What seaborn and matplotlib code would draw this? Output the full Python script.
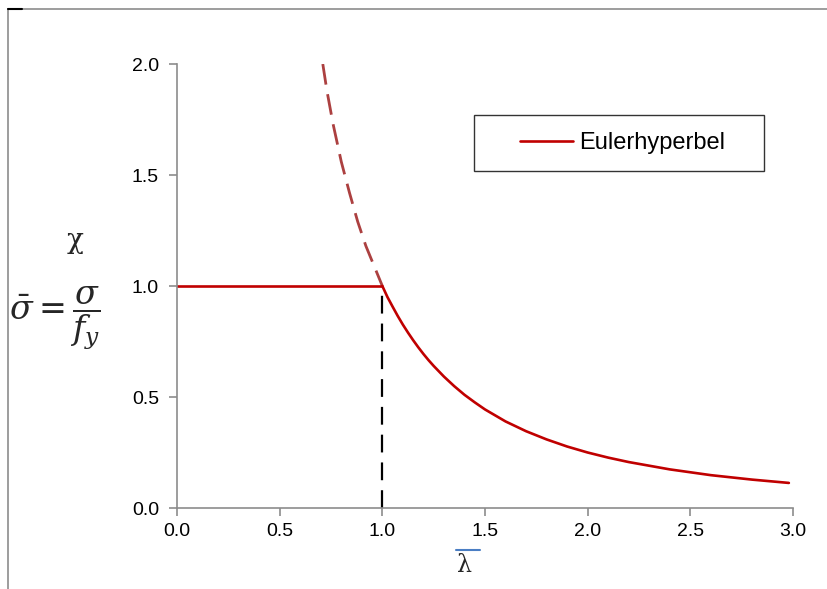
import matplotlib
matplotlib.use("Agg")
import matplotlib.pyplot as plt
import seaborn as sns
import pandas as pd
from matplotlib.lines import Line2D
from matplotlib.patches import Rectangle

# Data
dash_x = [0.71, 0.73, 0.76, 0.80, 0.84, 0.88, 0.92, 0.96, 1.00]
dash_y = [2.00, 1.88, 1.73, 1.56, 1.42, 1.29, 1.18, 1.09, 1.00]

euler_x = [1.00, 1.025, 1.05, 1.075, 1.10, 1.125, 1.15, 1.175, 1.20, 1.225, 1.25, 1.30,
           1.35, 1.40, 1.45, 1.50, 1.60, 1.70, 1.80, 1.90, 2.00, 2.10, 2.20, 2.40,
           2.60, 2.80, 2.98]
euler_y = [1.00, 0.95, 0.907, 0.865, 0.826, 0.79, 0.756, 0.724, 0.694, 0.666, 0.64, 0.592,
           0.549, 0.51, 0.476, 0.444, 0.39, 0.346, 0.309, 0.277, 0.25, 0.227, 0.207, 0.174,
           0.148, 0.128, 0.113]

plateau_x = [0.0, 1.0]
plateau_y = [1.0, 1.0]

vert_x = [1.0, 1.0]
vert_y = [0.0, 1.0]

xticks = [0.0, 0.5, 1.0, 1.5, 2.0, 2.5, 3.0]
yticks = [0.0, 0.5, 1.0, 1.5, 2.0]

sns.set_theme(style="white")
plt.rcParams['font.family'] = ['Liberation Sans', 'DejaVu Sans']

fig = plt.figure(figsize=(8.28, 5.89), dpi=100)
ax = fig.add_axes([0.2138, 0.1375, 0.7439, 0.7538])

red = "#C00000"
brown = "#AC4040"

sns.lineplot(data=pd.DataFrame({"x": dash_x, "y": dash_y}), x="x", y="y", ax=ax,
             color=brown, lw=2.0, sort=False, estimator=None)
ax.lines[-1].set_dashes([7.5, 3.5])
sns.lineplot(data=pd.DataFrame({"x": plateau_x, "y": plateau_y}), x="x", y="y", ax=ax,
             color=red, lw=1.9, sort=False, estimator=None)
sns.lineplot(data=pd.DataFrame({"x": vert_x, "y": vert_y}), x="x", y="y", ax=ax,
             color="black", lw=1.6, sort=False, estimator=None)
ax.lines[-1].set_dashes([8, 4.5])
sns.lineplot(data=pd.DataFrame({"x": euler_x, "y": euler_y}), x="x", y="y", ax=ax,
             color=red, lw=1.9, sort=False, estimator=None, label="Eulerhyperbel")

ax.set_xlim(0, 3.0)
ax.set_ylim(0, 2.0)
ax.set_xticks(xticks)
ax.set_yticks(yticks)
ax.set_xticklabels([f"{v:.1f}" for v in xticks])
ax.set_yticklabels([f"{v:.1f}" for v in yticks])
ax.set_xlabel("")
ax.set_ylabel("")

for s in ["top", "right"]:
    ax.spines[s].set_visible(False)
for s in ["left", "bottom"]:
    ax.spines[s].set_color("#8c8c8c")
    ax.spines[s].set_linewidth(1.2)
ax.tick_params(axis="both", which="major", direction="out", length=6, width=1.2,
               color="#8c8c8c", labelsize=14, labelcolor="black", pad=5, left=True, bottom=True)
ax.yaxis.set_tick_params(pad=7)

# Legend (frameless) with a separate box
leg = ax.legend(loc="center left", bbox_to_anchor=((520 - 177) / 616, (508 - 143) / 444),
                frameon=False, fontsize=17, handlelength=2.25, borderpad=0,
                borderaxespad=0, handletextpad=0.25)
for t in leg.get_texts():
    t.set_color("black")
ax.add_patch(Rectangle(((474 - 177) / 616, (508 - 171) / 444), 290 / 616, 56 / 444,
                       transform=ax.transAxes, fill=False, edgecolor="#333333",
                       lw=1.0, zorder=5))

# Y label
fig.text(75/828, 1 - 240/589, "χ", fontsize=20, ha="center", va="center",
         family="DejaVu Serif")
fig.text(55/828, 1 - 318/589, r"$\bar{\sigma} = \dfrac{\sigma}{f_y}$", fontsize=24,
         ha="center", va="center", math_fontfamily="dejavuserif")

# X label: lambda with blue overline
fig.text(465/828, 1 - 566/589, "λ", fontsize=17, ha="center", va="center",
         family="DejaVu Serif")
fig.add_artist(Line2D([456/828, 480/828], [1 - 550/589, 1 - 550/589],
                      transform=fig.transFigure, color="#4a7ec4", lw=1.5))

# Outer frame
fig.add_artist(Line2D([8/828, 1.0], [1 - 9/589, 1 - 9/589], transform=fig.transFigure,
                      color="#8c8c8c", lw=1.2))
fig.add_artist(Line2D([8/828, 8/828], [1 - 9/589, 0.0], transform=fig.transFigure,
                      color="#8c8c8c", lw=1.2))
fig.add_artist(Line2D([8/828, 22/828], [1 - 9/589, 1 - 9/589], transform=fig.transFigure,
                      color="black", lw=1.5))

fig.savefig("out.png", dpi=100)
